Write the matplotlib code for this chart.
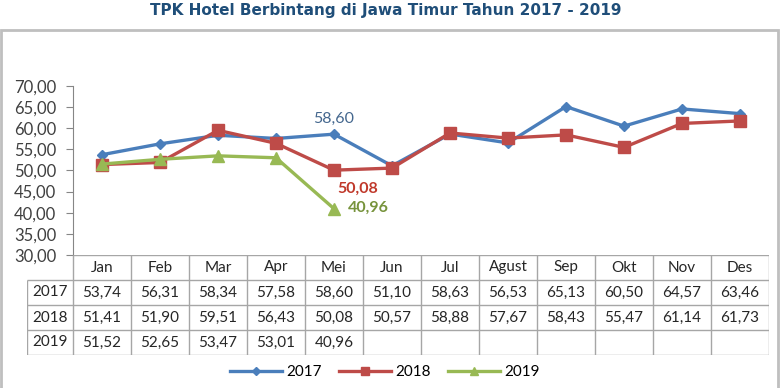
import matplotlib.pyplot as plt
from matplotlib.patches import Rectangle

# data
bulan = ['Jan', 'Feb', 'Mar', 'Apr', 'Mei', 'Jun', 'Jul', 'Agust', 'Sep', 'Okt', 'Nov', 'Des']
tahun = ['2017', '2018', '2019']
tpk2017 = [53.74, 56.31, 58.34, 57.58, 58.60, 51.10, 58.63, 56.53, 65.13, 60.50, 64.57, 63.46]
tpk2018 = [51.41, 51.90, 59.51, 56.43, 50.08, 50.57, 58.88, 57.67, 58.43, 55.47, 61.14, 61.73]
tpk2019 = [51.52, 52.65, 53.47, 53.01, 40.96]
yticks = [30, 35, 40, 45, 50, 55, 60, 65, 70]

def fmt(v):
    return f'{v:.2f}'.replace('.', ',')

plt.rcParams['font.family'] = ['Lato', 'DejaVu Sans']
W, H = 780, 388
fig = plt.figure(figsize=(W / 100, H / 100), dpi=100)

# outer frame
fig.patches.append(Rectangle((1 / W, -0.1), 777 / W, 1 - 30 / H + 0.1, transform=fig.transFigure,
                             fill=False, edgecolor='#BFBFBF', linewidth=2))
fig.text(0.495, 1 - 11 / H, 'TPK Hotel Berbintang di Jawa Timur Tahun 2017 - 2019',
         ha='center', va='center', fontsize=11, fontweight='bold', color='#1F4E79',
         family=['Liberation Sans Narrow', 'DejaVu Sans'])

ax = fig.add_axes([73 / W, 1 - 255 / H, 696 / W, 169 / H])
x = list(range(12))
ax.plot(x, tpk2017, color='#4A7EBB', lw=2.4, marker='D', ms=5.5, label='2017')
ax.plot(x, tpk2018, color='#BE4B48', lw=2.4, marker='s', ms=8, label='2018')
ax.plot(x[:len(tpk2019)], tpk2019, color='#98B954', lw=2.4, marker='^', ms=8, label='2019')

ax.set_xlim(-0.5, 11.5)
ax.set_ylim(30, 70)
ax.set_yticks(yticks)
ax.set_yticklabels([fmt(v) for v in yticks], fontsize=12, color='#404040')
ax.set_xticks([])
ax.tick_params(axis='y', length=5, color='#868686', pad=7)
for s in ['top', 'right', 'bottom']:
    ax.spines[s].set_visible(False)
ax.spines['left'].set_color('#868686')

ax.annotate('58,60', (4, tpk2017[4]), xytext=(0, 15), textcoords='offset pixels',
            ha='center', va='center', fontsize=11.5, color='#44678E')
ax.annotate('50,08', (4, tpk2018[4]), xytext=(3, -19), textcoords='offset pixels',
            ha='left', va='center', fontsize=11.5, fontweight='bold', color='#C0392B')
ax.annotate('40,96', (4, tpk2019[4]), xytext=(14, 1), textcoords='offset pixels',
            ha='left', va='center', fontsize=11.5, fontweight='bold', color='#77933C')

# data table under the chart
lw = 46 / 58
tx = fig.add_axes([27 / W, 1 - 355 / H, 742 / W, 100 / H])
tx.set_xlim(-0.5 - lw, 11.5)
tx.set_ylim(4, 0)
tx.axis('off')
grid = '#A6A6A6'
tx.hlines(0, -0.5, 11.5, color=grid, lw=1)
tx.hlines([1, 2, 3, 4], -0.5 - lw, 11.5, color=grid, lw=1)
tx.vlines([k - 0.5 for k in range(13)], 0, 4, color=grid, lw=1)
tx.vlines(-0.5 - lw, 1, 4, color=grid, lw=1)
for j, b in enumerate(bulan):
    tx.text(j, 0.5, b, ha='center', va='center', fontsize=11, color='#262626')
for i, (t, vals) in enumerate(zip(tahun, [tpk2017, tpk2018, tpk2019])):
    tx.text(-0.5 - lw / 2, i + 1.5, t, ha='center', va='center', fontsize=11, color='#262626')
    for j, v in enumerate(vals):
        tx.text(j, i + 1.5, fmt(v), ha='center', va='center', fontsize=11, color='#262626')

fig.legend(*ax.get_legend_handles_labels(), loc='center', bbox_to_anchor=(385 / W, 1 - 372 / H),
           ncol=3, frameon=False, fontsize=11, handlelength=3.4, columnspacing=1.1,
           handletextpad=0.3, markerscale=0.8)

fig.savefig('out.png', dpi=100)
